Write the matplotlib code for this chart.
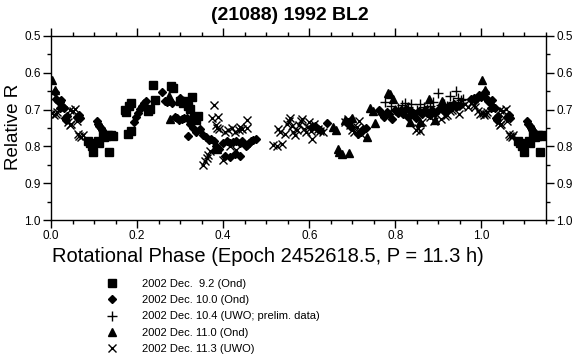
import matplotlib
matplotlib.use('Agg')
import matplotlib.pyplot as plt
import numpy as np
from matplotlib.ticker import MultipleLocator

plt.rcParams['font.family'] = ['Liberation Sans', 'DejaVu Sans']

TITLE = '(21088) 1992 BL2'
XLABEL = 'Rotational Phase (Epoch 2452618.5, P = 11.3 h)'
YLABEL = 'Relative R'

# ── Data (phase 0..1, relative R) ─────────────────────────────────────────────
sq_phase = [0.086, 0.090, 0.095, 0.098, 0.110, 0.112, 0.120, 0.124, 0.128, 0.132,
            0.135, 0.140, 0.145, 0.172, 0.175, 0.182, 0.186, 0.180, 0.185, 0.226,
            0.230, 0.237, 0.242, 0.279, 0.284, 0.300, 0.307, 0.312, 0.318, 0.323,
            0.328, 0.333, 0.338, 0.342]
sq_r = [0.785, 0.792, 0.800, 0.815, 0.784, 0.790, 0.770, 0.775, 0.772, 0.768,
        0.815, 0.770, 0.772, 0.700, 0.706, 0.690, 0.682, 0.765, 0.758, 0.703,
        0.698, 0.633, 0.674, 0.636, 0.640, 0.676, 0.683, 0.676, 0.690, 0.699,
        0.666, 0.720, 0.728, 0.718]

dm_phase = [0.009, 0.012, 0.016, 0.020, 0.024, 0.022, 0.027, 0.031, 0.033, 0.036,
            0.038, 0.060, 0.064, 0.067,
            0.106, 0.109, 0.112, 0.115, 0.118, 0.121, 0.124, 0.126,
            0.193, 0.197, 0.203, 0.207, 0.211, 0.216, 0.220,
            0.258, 0.265, 0.269, 0.274, 0.280, 0.300, 0.288, 0.293, 0.298, 0.304,
            0.310, 0.316, 0.318, 0.323, 0.330, 0.338, 0.345,
            0.354, 0.360, 0.366, 0.372, 0.378, 0.384, 0.390, 0.400, 0.408, 0.415,
            0.422, 0.430, 0.438, 0.444, 0.405, 0.415, 0.428, 0.440,
            0.452, 0.456, 0.460, 0.465, 0.470, 0.476,
            0.607, 0.613, 0.620, 0.626, 0.642,
            0.690, 0.696, 0.714, 0.720, 0.726, 0.732,
            0.762, 0.768, 0.774, 0.780, 0.786, 0.792, 0.800, 0.806, 0.812, 0.818,
            0.824, 0.830, 0.836, 0.842, 0.848, 0.856, 0.862, 0.868, 0.874, 0.880,
            0.886, 0.892, 0.900, 0.906, 0.912, 0.918, 0.924, 0.930, 0.936, 0.942,
            0.950, 0.976, 0.982, 0.986, 0.990, 0.994, 0.998]
dm_r = [0.652, 0.672, 0.676, 0.680, 0.673, 0.696, 0.694, 0.697, 0.722, 0.727,
        0.718, 0.720, 0.716, 0.722,
        0.730, 0.738, 0.745, 0.750, 0.756, 0.762, 0.768, 0.774,
        0.735, 0.720, 0.708, 0.698, 0.690, 0.683, 0.676,
        0.652, 0.676, 0.680, 0.676, 0.683, 0.668, 0.720, 0.724, 0.728, 0.726,
        0.722, 0.724, 0.772, 0.740, 0.750, 0.760, 0.752,
        0.768, 0.775, 0.782, 0.779, 0.785, 0.800, 0.808, 0.790, 0.785, 0.792,
        0.788, 0.784, 0.790, 0.786, 0.825, 0.828, 0.822, 0.825,
        0.800, 0.795, 0.790, 0.785, 0.782, 0.781,
        0.748, 0.745, 0.752, 0.755, 0.736,
        0.740, 0.748, 0.765, 0.760, 0.754, 0.750,
        0.700, 0.712, 0.720, 0.706, 0.713, 0.725, 0.702, 0.710, 0.700, 0.712,
        0.698, 0.720, 0.703, 0.708, 0.722, 0.705, 0.712, 0.700, 0.708, 0.715,
        0.702, 0.710, 0.700, 0.695, 0.705, 0.700, 0.690, 0.695, 0.685, 0.692,
        0.688, 0.672, 0.668, 0.675, 0.668, 0.660, 0.665]

pl_phase = [0.777, 0.790, 0.800, 0.807, 0.815, 0.822, 0.830, 0.836, 0.850, 0.858,
            0.866, 0.874, 0.880, 0.888, 0.898, 0.905, 0.912, 0.920, 0.928, 0.933,
            0.940, 0.946, 0.952, 0.958]
pl_r = [0.679, 0.690, 0.700, 0.696, 0.688, 0.683, 0.692, 0.686, 0.700, 0.684,
        0.692, 0.698, 0.690, 0.680, 0.655, 0.688, 0.686, 0.690, 0.663, 0.680,
        0.649, 0.668, 0.675, 0.670]

tr_phase = [0.002, 0.009, 0.275, 0.277, 0.380, 0.386, 0.656, 0.662, 0.667, 0.670,
            0.676, 0.684, 0.693, 0.700, 0.735, 0.742, 0.747, 0.753, 0.784, 0.787,
            0.795, 0.835, 0.858, 0.879, 0.893, 0.909]
tr_r = [0.619, 0.648, 0.662, 0.725, 0.805, 0.808, 0.747, 0.755, 0.808, 0.815,
        0.822, 0.728, 0.818, 0.723, 0.774, 0.697, 0.705, 0.737, 0.656, 0.658,
        0.672, 0.734, 0.734, 0.672, 0.728, 0.677]

xx_phase = [0.003, 0.007, 0.011, 0.014, 0.040, 0.043, 0.046, 0.044, 0.050, 0.056,
            0.060, 0.063, 0.066, 0.070, 0.074,
            0.379, 0.375, 0.383, 0.386, 0.390, 0.388, 0.353, 0.358, 0.362, 0.365,
            0.370, 0.400, 0.416, 0.405, 0.412, 0.420, 0.428, 0.436, 0.440, 0.444,
            0.430, 0.456, 0.456,
            0.516, 0.524, 0.528, 0.532, 0.537, 0.544, 0.548, 0.552, 0.556, 0.560,
            0.563, 0.567, 0.572, 0.576, 0.580, 0.584, 0.588, 0.592, 0.596, 0.600,
            0.604, 0.607, 0.612, 0.620, 0.626, 0.633,
            0.684, 0.690, 0.695, 0.700, 0.705, 0.710, 0.716, 0.720,
            0.847, 0.852, 0.858, 0.863, 0.880, 0.890, 0.905, 0.915, 0.921, 0.926,
            0.932, 0.940, 0.947, 0.956, 0.962, 0.968, 0.975, 0.982, 0.986, 0.993,
            0.997]
xx_r = [0.710, 0.714, 0.712, 0.706, 0.735, 0.742, 0.738, 0.700, 0.705, 0.698,
        0.730, 0.766, 0.772, 0.775, 0.770,
        0.688, 0.722, 0.742, 0.750, 0.752, 0.720, 0.850, 0.840, 0.832, 0.823,
        0.812, 0.837, 0.800, 0.760, 0.755, 0.750, 0.762, 0.755, 0.747, 0.752,
        0.810, 0.728, 0.750,
        0.795, 0.798, 0.752, 0.760, 0.793, 0.765, 0.740, 0.732, 0.722, 0.745,
        0.760, 0.770, 0.755, 0.742, 0.730, 0.725, 0.752, 0.762, 0.748, 0.735,
        0.758, 0.780, 0.740, 0.752, 0.758, 0.762,
        0.735, 0.725, 0.742, 0.755, 0.760, 0.748, 0.730, 0.765,
        0.755, 0.750, 0.758, 0.734, 0.720, 0.730, 0.725, 0.718, 0.715, 0.705,
        0.700, 0.690, 0.712, 0.690, 0.685, 0.694, 0.682, 0.688, 0.694, 0.705,
        0.712]

series = [
    (sq_phase, sq_r, 's', '2002 Dec.  9.2 (Ond)'),
    (dm_phase, dm_r, 'D', '2002 Dec. 10.0 (Ond)'),
    (pl_phase, pl_r, '+', '2002 Dec. 10.4 (UWO; prelim. data)'),
    (tr_phase, tr_r, '^', '2002 Dec. 11.0 (Ond)'),
    (xx_phase, xx_r, 'x', '2002 Dec. 11.3 (UWO)'),
]
MARKER_SIZE = {'s': 5.5, 'D': 4.2, '+': 6.5, '^': 5.5, 'x': 5.5}
WRAP = 0.15   # phases below this are repeated past 1.0


def wrapped(phase, r):
    p = np.asarray(phase)
    r = np.asarray(r)
    m = p < WRAP
    return np.concatenate([p, p[m] + 1.0]), np.concatenate([r, r[m]])


fig = plt.figure(figsize=(5.72, 3.54), dpi=100)
ax = fig.add_axes([51 / 572, 1 - 220 / 354, 495 / 572, 184 / 354])

handles = []
for ph, r, mk, label in series:
    x, y = wrapped(ph, r)
    h, = ax.plot(x, y, ls='none', marker=mk, ms=MARKER_SIZE[mk], color='black',
                 mec='black', mew=1.0, label=label)
    handles.append(h)

ax.set_xlim(0, 1.15)
ax.set_ylim(1.0, 0.5)
ax.xaxis.set_major_locator(MultipleLocator(0.2))
ax.xaxis.set_minor_locator(MultipleLocator(0.05))
ax.yaxis.set_major_locator(MultipleLocator(0.1))
ax.yaxis.set_minor_locator(MultipleLocator(0.05))
ax.xaxis.set_major_formatter(plt.FormatStrFormatter('%.1f'))
ax.yaxis.set_major_formatter(plt.FormatStrFormatter('%.1f'))
ax.tick_params(which='both', direction='out', top=True, right=True,
               labelright=True, labelsize=8.5, width=1, pad=1.5)
ax.tick_params(which='major', length=6)
ax.tick_params(which='minor', length=3)
for s in ax.spines.values():
    s.set_linewidth(1)

fig.text(0.507, 1 - 16 / 354, TITLE, ha='center', va='center', fontsize=14,
         fontweight='bold')
fig.text(268 / 572, 1 - 257 / 354, XLABEL, ha='center', va='center', fontsize=14.5)
fig.text(13 / 572, 1 - 127 / 354, YLABEL, ha='center', va='center', fontsize=13.5,
         rotation=90)

fig.legend(handles=handles, loc='upper left', bbox_to_anchor=(106 / 572, 1 - 279 / 354),
           frameon=False, fontsize=8, handlelength=1.0, handletextpad=2.2,
           borderpad=0, borderaxespad=0, labelspacing=0.56)

fig.savefig('out.png', dpi=100)
